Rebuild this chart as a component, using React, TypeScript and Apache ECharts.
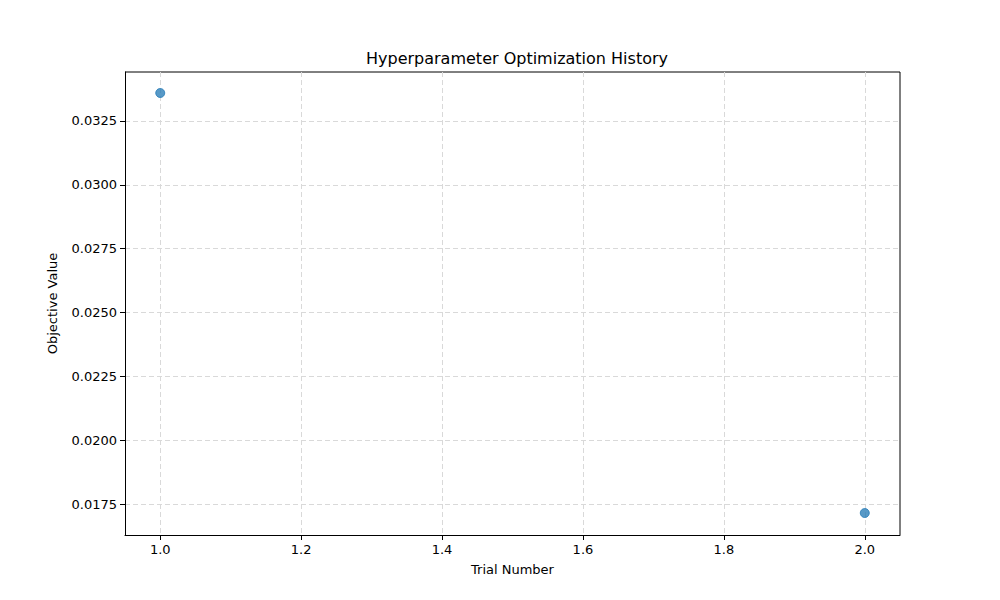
import React, { useEffect, useRef } from "react";
import * as echarts from "echarts";

const trials = [1, 2];
const objectiveValues = [0.033597, 0.017147];
const xTicks = [1.0, 1.2, 1.4, 1.6, 1.8, 2.0];
const yTicks = [0.0175, 0.02, 0.0225, 0.025, 0.0275, 0.03, 0.0325];

export default function App() {
  const ref = useRef<HTMLDivElement>(null);
  useEffect(() => {
    const chart = echarts.init(ref.current!, null, { renderer: "svg" });
    const font = "DejaVu Sans";
    chart.setOption({
      animation: false,
      textStyle: { fontFamily: font },
      title: {
        text: "Hyperparameter Optimization History",
        left: 512, top: 45, textAlign: "center",
        textStyle: { fontFamily: font, fontSize: 16, fontWeight: "normal", color: "#000" },
      },
      grid: { left: 125, right: 100, top: 72, bottom: 65 },
      xAxis: {
        type: "value", min: 0.95, max: 2.05,
        name: "Trial Number", nameLocation: "middle", nameGap: 28,
        nameTextStyle: { fontFamily: font, fontSize: 13, color: "#000" },
        axisLine: { onZero: false, lineStyle: { color: "#000" } },
        axisTick: { show: true, customValues: xTicks, length: 5, lineStyle: { color: "#000" } },
        axisLabel: { customValues: xTicks, fontSize: 13, color: "#000", formatter: (v: number) => v.toFixed(1) },
        splitLine: { show: true, lineStyle: { type: [5, 3], color: "#d9d9d9" } },
      },
      yAxis: {
        type: "value", min: 0.016286, max: 0.034419,
        name: "Objective Value", nameLocation: "middle", nameGap: 66,
        nameTextStyle: { fontFamily: font, fontSize: 13, color: "#000" },
        axisLine: { show: true, onZero: false, lineStyle: { color: "#000" } },
        axisTick: { show: true, customValues: yTicks, length: 5, lineStyle: { color: "#000" } },
        axisLabel: { customValues: yTicks, fontSize: 13, color: "#000", formatter: (v: number) => v.toFixed(4) },
        splitLine: { show: true, lineStyle: { type: [5, 3], color: "#d9d9d9" } },
      },
      series: [
        {
          type: "scatter",
          data: trials.map((t, i) => [t, objectiveValues[i]]),
          symbolSize: 9,
          itemStyle: { color: "#1f77b4", opacity: 0.75, borderColor: "#1f77b4", borderWidth: 1 },
        },
      ],
      graphic: [
        { type: "line", shape: { x1: 900, y1: 72, x2: 900, y2: 535 }, style: { stroke: "#000" } },
        { type: "line", shape: { x1: 125, y1: 72, x2: 900, y2: 72 }, style: { stroke: "#000" } },
      ],
    });
    return () => chart.dispose();
  }, []);
  return <div ref={ref} style={{ width: 1000, height: 600, position: "absolute", left: 0, top: 0 }} />;
}
